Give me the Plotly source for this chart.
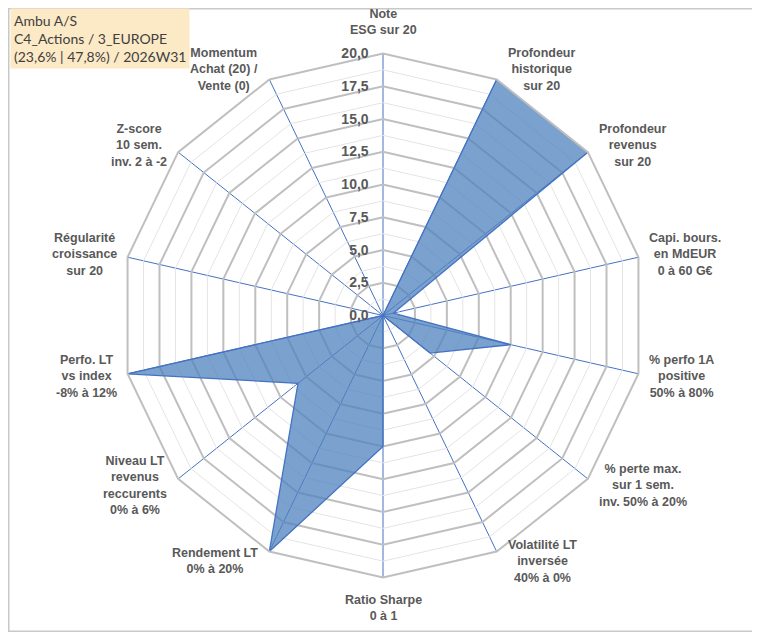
import math
import plotly.graph_objects as go

# axes of the radar, clockwise from the top
categories = [
    "Note<br>ESG sur 20",
    "Profondeur<br>historique<br>sur 20",
    "Profondeur<br>revenus<br>sur 20",
    "Capi. bours.<br>en MdEUR<br>0 à 60 G€",
    "% perfo 1A<br>positive<br>50% à 80%",
    "% perte max.<br>sur 1 sem.<br>inv. 50% à 20%",
    "Volatilité LT<br>inversée<br>40% à 0%",
    "Ratio Sharpe<br>0 à 1",
    "Rendement LT<br>0% à 20%",
    "Niveau LT<br>revenus<br>reccurents<br>0% à 6%",
    "Perfo. LT<br>vs index<br>-8% à 12%",
    "Régularité<br>croissance<br>sur 20",
    "Z-score<br>10 sem.<br>inv. 2 à -2",
    "Momentum<br>Achat (20) /<br>Vente (0)",
]
scores = [0, 20, 20, 0.8, 10, 4.6, 0, 10, 20, 8.3, 20, 0, 0, 0]

major_ticks = [0, 2.5, 5, 7.5, 10, 12.5, 15, 17.5, 20]
major_labels = [f"{v:.1f}".replace(".", ",") for v in major_ticks]
minor_ticks = [1.25, 3.75, 6.25, 8.75, 11.25, 13.75, 16.25, 18.75]

title_lines = ["Ambu A/S", "C4_Actions / 3_EUROPE", "(23,6% | 47,8%) / 2026W31"]

# figure size and where the radar sits (pixels from top-left)
W, H = 752, 625
CX, CY, R = 375, 307.5, 262

fig = go.Figure()

# thin rings between the labelled ones
for r in minor_ticks:
    fig.add_trace(go.Scatterpolar(
        r=[r] * (len(categories) + 1),
        theta=categories + [categories[0]],
        mode="lines",
        line=dict(color="#E4E4E4", width=1),
        hoverinfo="skip",
        showlegend=False,
    ))

fig.add_trace(go.Scatterpolar(
    r=scores + [scores[0]],
    theta=categories + [categories[0]],
    mode="lines",
    fill="toself",
    fillcolor="rgba(79,129,189,0.75)",
    line=dict(color="#4472C4", width=1.3),
    showlegend=False,
    name="Ambu A/S",
))

# category labels, centred text like the Excel original
label_notes = []
n = len(categories)
for i, cat in enumerate(categories):
    a = math.radians(90 - i * 360 / n)
    c, s = math.cos(a), math.sin(a)
    vx, vy = CX + R * c, CY - R * s
    if abs(c) < 0.1:
        x, xanchor = vx, "center"
        if s > 0:
            y, yanchor = vy - 14, "bottom"
        else:
            y, yanchor = vy + 13, "top"
    else:
        x = vx + (9 if c > 0 else -9)
        xanchor = "left" if c > 0 else "right"
        y, yanchor = vy - 11 * s, "middle"
    label_notes.append(dict(
        text=cat, xref="paper", yref="paper",
        x=x / W, y=1 - y / H,
        xanchor=xanchor, yanchor=yanchor,
        align="center", showarrow=False,
        font=dict(family="Arial", size=12.5, color="#595959", weight="bold"),
    ))

title_note = dict(
    text="<br>".join(title_lines),
    xref="paper", yref="paper",
    x=2 / W, y=1.0,
    xanchor="left", yanchor="top",
    align="left",
    showarrow=False,
    bgcolor="#FCE9C6",
    borderpad=3,
    font=dict(family="Lato", size=14, color="#404040"),
)

fig.update_layout(
    width=W,
    height=H,
    margin=dict(l=0, r=0, t=0, b=0),
    paper_bgcolor="white",
    showlegend=False,
    polar=dict(
        domain=dict(x=[(CX - R) / W, (CX + R) / W],
                    y=[(H - CY - R) / H, (H - CY + R) / H]),
        bgcolor="white",
        gridshape="linear",
        radialaxis=dict(
            range=[0, 20],
            tickvals=major_ticks,
            ticktext=major_labels,
            angle=90,
            side="counterclockwise",
            tickangle=90,
            showline=False,
            ticks="outside",
            ticklen=9,
            tickcolor="rgba(0,0,0,0)",
            gridcolor="#BFBFBF",
            gridwidth=2,
            tickfont=dict(family="Arial", size=14, color="#595959", weight="bold"),
        ),
        angularaxis=dict(
            direction="clockwise",
            rotation=90,
            showline=True,
            linecolor="#BFBFBF",
            linewidth=2,
            gridcolor="#4472C4",
            gridwidth=1,
            ticks="",
            showticklabels=False,
        ),
    ),
    annotations=label_notes + [title_note],
    shapes=[dict(
        type="rect", xref="paper", yref="paper",
        x0=0.001, y0=0.003, x1=0.992, y1=0.999,
        line=dict(color="#C8C8C8", width=1.5),
    )],
)

fig.write_html("out.html")
